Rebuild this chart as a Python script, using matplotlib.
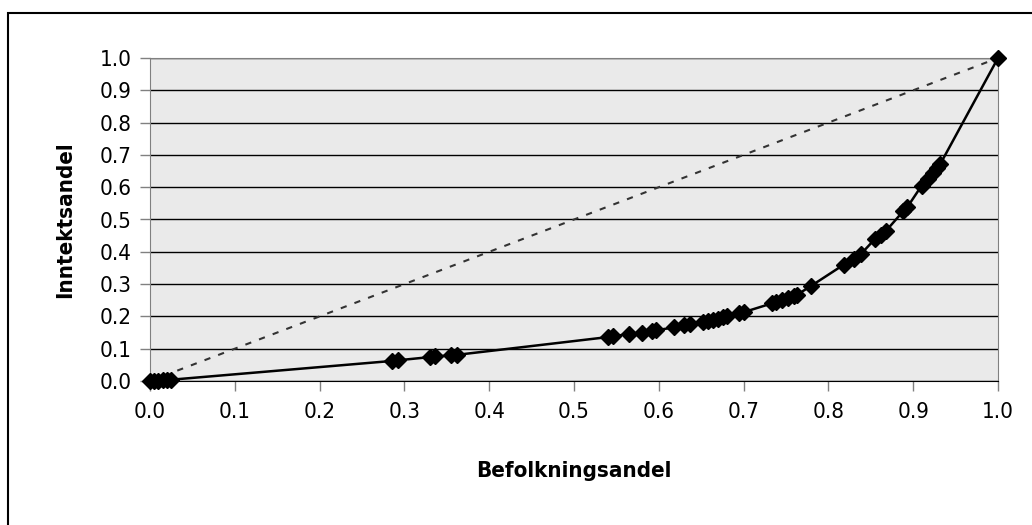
import matplotlib.pyplot as plt
from matplotlib.patches import Rectangle

plt.rcParams['font.family'] = ['DejaVu Sans']
plt.rcParams['font.stretch'] = 'condensed'

# Lorenz-kurve: befolkningsandel vs. inntektsandel
befolkning = [0.0, 0.005, 0.01, 0.015, 0.02, 0.025,
              0.285, 0.292,
              0.33, 0.336,
              0.355, 0.362,
              0.540, 0.546,
              0.565, 0.58, 0.592, 0.597,
              0.618, 0.63, 0.637,
              0.652, 0.658, 0.664, 0.67, 0.676, 0.68,
              0.695, 0.70,
              0.733, 0.738, 0.745, 0.752, 0.76, 0.763,
              0.78,
              0.818, 0.83, 0.838,
              0.855, 0.862, 0.868,
              0.888, 0.893,
              0.91, 0.917, 0.923, 0.928, 0.932,
              1.0]
inntekt = [0.0, 0.0005, 0.001, 0.002, 0.003, 0.004,
           0.062, 0.064,
           0.074, 0.076,
           0.079, 0.081,
           0.136, 0.138,
           0.146, 0.150, 0.155, 0.157,
           0.166, 0.172, 0.175,
           0.182, 0.186, 0.189, 0.193, 0.197, 0.200,
           0.209, 0.213,
           0.240, 0.244, 0.250, 0.256, 0.264, 0.267,
           0.295,
           0.360, 0.378, 0.392,
           0.440, 0.452, 0.465,
           0.525, 0.538,
           0.605, 0.625, 0.645, 0.660, 0.672,
           1.0]
likhet = [0.0, 1.0]
ticks = [i / 10 for i in range(11)]

fig = plt.figure(figsize=(10.32, 5.25), dpi=100)
# ramme rundt hele diagrammet
fig.patches.append(Rectangle((8 / 1032, -0.1), 1.2, (525 - 13) / 525 + 0.1,
                             transform=fig.transFigure, fill=False,
                             edgecolor='black', linewidth=1.5))

ax = fig.add_axes([150 / 1032, (525 - 381) / 525, 848 / 1032, 323 / 525])
ax.set_facecolor('#eaeaea')

ax.plot(likhet, likhet, color='#333333', linewidth=1.5, linestyle=(0, (3, 4)), zorder=3)
ax.plot(befolkning, inntekt, color='black', linewidth=1.8, marker='D',
        markersize=8, markerfacecolor='black', markeredgecolor='black', zorder=4,
        clip_on=False)

ax.set_xlim(0, 1)
ax.set_ylim(0, 1)
ax.set_xticks(ticks)
ax.set_yticks(ticks)
ax.set_xticklabels([f'{t:.1f}' for t in ticks])
ax.set_yticklabels([f'{t:.1f}' for t in ticks])
ax.grid(axis='y', color='black', linewidth=1)
ax.set_axisbelow(True)

for side in ['top', 'right']:
    ax.spines[side].set_color('#808080')
ax.spines['left'].set_color('#808080')
ax.spines['bottom'].set_color('black')
ax.tick_params(axis='both', direction='out', length=7, width=1, colors='#808080',
               labelcolor='black', labelsize=16)
ax.tick_params(axis='x', pad=8)
ax.tick_params(axis='y', pad=6)

ax.set_xlabel('Befolkningsandel', fontsize=16, fontweight='bold', labelpad=28)
ax.set_ylabel('Inntektsandel', fontsize=16, fontweight='bold', labelpad=18)

fig.savefig('out.png', dpi=100)
